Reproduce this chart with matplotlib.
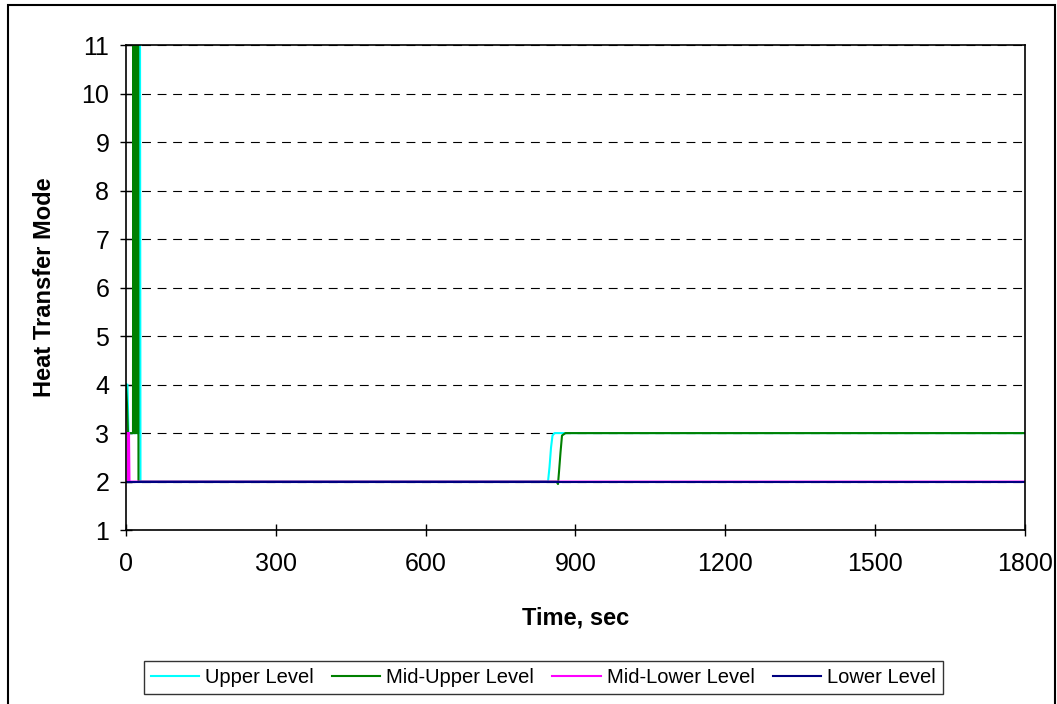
import matplotlib
matplotlib.use("Agg")
import matplotlib.pyplot as plt
from matplotlib.patches import Rectangle

plt.rcParams["font.family"] = ["Liberation Sans", "DejaVu Sans"]

# time (sec) / heat transfer mode for each level
upper_t = [0, 3, 5, 25, 26, 28, 29, 845, 848, 851, 854, 858, 1800]
upper_m = [4, 4, 3, 3, 12, 12, 2, 2, 2.3, 2.7, 2.95, 3, 3]

midup_t = [0, 2, 4, 14, 14.5, 15.5, 16, 17, 17.5, 18.5, 19, 20, 20.5, 21.5, 22, 23,
           23.5, 24.5, 25, 862, 865, 867, 870, 873, 880, 1800]
midup_m = [4, 3.6, 3, 3, 12, 12, 3, 3, 12, 12, 3, 3, 12, 12, 3, 3,
           12, 12, 2, 2, 1.95, 2.2, 2.6, 2.95, 3, 3]

midlow_t = [0, 4, 4.5, 5, 5.5, 6, 7, 1800]
midlow_m = [3, 3, 2, 3, 2, 3, 2, 2]

lower_t = [0, 1800]
lower_m = [2, 2]

x_ticks = [0, 300, 600, 900, 1200, 1500, 1800]
y_ticks = list(range(1, 12))

fig = plt.figure(figsize=(10.57, 7.04), dpi=100)
ax = fig.add_axes([0.1192, 0.247, 0.8505, 0.689])

ax.plot(upper_t, upper_m, color="#00FFFF", lw=1.5, label="Upper Level")
ax.plot(midup_t, midup_m, color="#008000", lw=1.5, label="Mid-Upper Level")
ax.plot(midlow_t, midlow_m, color="#FF00FF", lw=1.5, label="Mid-Lower Level")
ax.plot(lower_t, lower_m, color="#000080", lw=1.5, label="Lower Level")

ax.set_xlim(0, 1800)
ax.set_ylim(1, 11)
ax.set_xticks(x_ticks)
ax.set_yticks(y_ticks)
ax.tick_params(direction="inout", length=8, width=1, labelsize=18)
ax.tick_params(axis="x", pad=12)
ax.tick_params(axis="y", pad=8)
for s in ax.spines.values():
    s.set_color("black")
    s.set_linewidth(1.2)
ax.yaxis.grid(True, color="black", linestyle=(0, (8, 6)), linewidth=0.8)
ax.set_axisbelow(True)

ax.set_xlabel("Time, sec", fontsize=17, fontweight="bold", labelpad=22)
ax.set_ylabel("Heat Transfer Mode", fontsize=17, fontweight="bold", labelpad=18)

leg = fig.legend(loc="center", bbox_to_anchor=(0.514, 0.038), ncol=4,
                 fontsize=14.5, frameon=True, fancybox=False, handlelength=2.4,
                 handletextpad=0.3, columnspacing=0.9, borderpad=0.35)
leg.get_frame().set_edgecolor("black")
leg.get_frame().set_linewidth(1)

fig.patches.append(Rectangle((8 / 1057, -0.01), 1047 / 1057, 0.01 + 1 - 5 / 704,
                             transform=fig.transFigure, fill=False,
                             edgecolor="black", linewidth=1.5))

fig.savefig("out.png", dpi=100)
